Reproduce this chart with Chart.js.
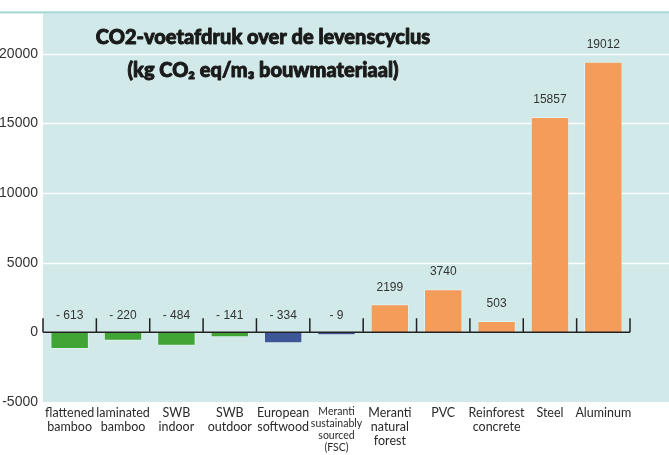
<!DOCTYPE html>
<html>
<head>
<meta charset="utf-8">
<script src="https://cdn.jsdelivr.net/npm/chart.js@4/dist/chart.umd.min.js"></script>
<style>
  html, body { margin: 0; padding: 0; background: #fff; }
  #wrap { width: 669px; height: 455px; }
</style>
</head>
<body>
<div id="wrap"><canvas id="co2Chart" width="669" height="455"></canvas></div>
<script>
const categories = [
    ['flattened', 'bamboo'], ['laminated', 'bamboo'], ['SWB', 'indoor'], ['SWB', 'outdoor'],
    ['European', 'softwood'], ['Meranti', 'sustainably', 'sourced', '(FSC)'],
    ['Meranti', 'natural', 'forest'], ['PVC'], ['Reinforest', 'concrete'], ['Steel'], ['Aluminum']
];
// bar heights as drawn in the picture
const barValues = [-1190, -600, -960, -360, -790, -215, 2020, 3100, 810, 15470, 19430];
// numbers printed above each bar
const labelValues = [-613, -220, -484, -141, -334, -9, 2199, 3740, 503, 15857, 19012];
const barColors = ['#41a535', '#41a535', '#41a535', '#41a535', '#3c5698', '#3c5698',
    '#f49d5a', '#f49d5a', '#f49d5a', '#f49d5a', '#f49d5a'];
const yTicks = [-5000, 0, 5000, 10000, 15000, 20000];
const titleLines = ['CO2-voetafdruk over de levenscyclus', '(kg CO\u2082 eq/m\u2083 bouwmateriaal)'];

const backdrop = {
    id: 'backdrop',
    beforeDraw(chart) {
        const { ctx, chartArea: a, scales: { y } } = chart;
        ctx.save();
        ctx.fillStyle = '#d1eae9';
        ctx.fillRect(a.left, a.top, chart.width - a.left, a.bottom - a.top);
        ctx.fillStyle = '#a3d5d2';
        ctx.fillRect(0, a.top - 2, chart.width, 2);
        ctx.strokeStyle = '#ffffff';
        ctx.lineWidth = 1.5;
        yTicks.filter(v => v > 0).forEach(v => {
            const py = Math.round(y.getPixelForValue(v)) + 0.5;
            ctx.beginPath();
            ctx.moveTo(a.left, py);
            ctx.lineTo(chart.width, py);
            ctx.stroke();
        });
        ctx.restore();
    },
    afterDatasetsDraw(chart) {
        const { ctx, chartArea: a, scales: { x, y } } = chart;
        const zero = y.getPixelForValue(0);
        ctx.save();
        ctx.strokeStyle = '#222';
        ctx.lineWidth = 1.5;
        ctx.beginPath();
        ctx.moveTo(a.left, zero);
        ctx.lineTo(a.right, zero);
        const step = (a.right - a.left) / categories.length;
        for (let i = 0; i <= categories.length; i++) {
            const px = a.left + i * step;
            ctx.moveTo(px, zero);
            ctx.lineTo(px, zero - 14);
        }
        ctx.stroke();

        // value labels
        ctx.fillStyle = '#333';
        ctx.font = '12px "Liberation Sans", sans-serif';
        ctx.textAlign = 'center';
        ctx.textBaseline = 'middle';
        labelValues.forEach((v, i) => {
            const top = Math.min(y.getPixelForValue(barValues[i]), zero);
            const txt = v < 0 ? '- ' + Math.abs(v) : String(v);
            ctx.fillText(txt, x.getPixelForValue(i), top - 17);
        });

        // title (bold + thin stroke to thicken it)
        ctx.fillStyle = '#1a1a1a';
        ctx.strokeStyle = '#1a1a1a';
        ctx.lineWidth = 0.9;
        ctx.lineJoin = 'round';
        ctx.font = '900 20px Lato, "DejaVu Sans", sans-serif';
        titleLines.forEach((t, i) => {
            ctx.fillText(t, 263, 38 + i * 33);
            ctx.strokeText(t, 263, 38 + i * 33);
        });
        ctx.restore();
    }
};

const ctx = document.getElementById('co2Chart').getContext('2d');
new Chart(ctx, {
    type: 'bar',
    data: {
        labels: categories,
        datasets: [{
            data: barValues,
            backgroundColor: barColors,
            borderColor: 'rgba(255,255,255,0.35)',
            borderWidth: 1,
            barPercentage: 0.72,
            categoryPercentage: 1
        }]
    },
    options: {
        responsive: false,
        animation: false,
        layout: { padding: { top: 13, right: 39, left: 0, bottom: 0 } },
        plugins: { legend: { display: false }, tooltip: { enabled: false } },
        scales: {
            x: {
                grid: { display: false },
                border: { display: false },
                ticks: {
                    color: '#2a2a2a',
                    padding: -4,
                    maxRotation: 0,
                    autoSkip: false,
                    font: c => c.index === 5
                        ? { family: 'Lato, sans-serif', size: 10.5, lineHeight: '12px' }
                        : { family: 'Lato, sans-serif', size: 12.5, lineHeight: '14px' }
                },
                afterFit: s => { s.height = 53; }
            },
            y: {
                min: -5000,
                max: 22900,
                grid: { display: false, drawTicks: false },
                border: { display: false },
                afterBuildTicks: s => { s.ticks = yTicks.map(v => ({ value: v })); },
                ticks: {
                    color: '#333',
                    padding: 5,
                    callback: v => String(v),
                    font: { family: '"Liberation Sans", sans-serif', size: 14 }
                },
                afterFit: s => { s.width = 43; }
            }
        }
    },
    plugins: [backdrop]
});
</script>
</body>
</html>
